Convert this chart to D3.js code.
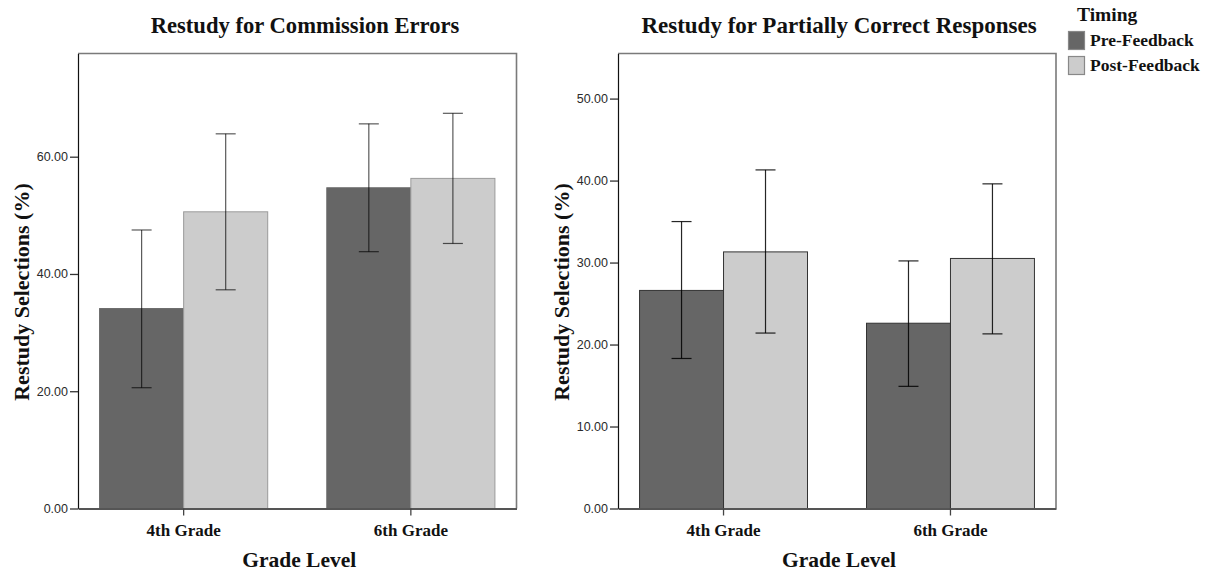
<!DOCTYPE html>
<html><head><meta charset="utf-8">
<script src="https://cdn.jsdelivr.net/npm/d3@7"></script>
<style>
html,body{margin:0;padding:0;background:#fff;}
svg{display:block;}
</style></head>
<body>
<svg id="chart" width="1211" height="574"></svg>
<script>
// ---- DATA ----
const grades = ["4th Grade", "6th Grade"];
const timing = ["Pre-Feedback", "Post-Feedback"];

// Restudy for Commission Errors
const commissionPre = [34.1, 54.7];
const commissionPost = [50.6, 56.3];
const commissionPreLo = [20.6, 43.8];
const commissionPreHi = [47.5, 65.6];
const commissionPostLo = [37.3, 45.2];
const commissionPostHi = [63.9, 67.4];
const commissionTicks = [0, 20, 40, 60];

// Restudy for Partially Correct Responses
const partialPre = [26.6, 22.6];
const partialPost = [31.3, 30.5];
const partialPreLo = [18.3, 14.9];
const partialPreHi = [35.0, 30.2];
const partialPostLo = [21.4, 21.3];
const partialPostHi = [41.3, 39.6];
const partialTicks = [0, 10, 20, 30, 40, 50];

const titles = ["Restudy for Commission Errors", "Restudy for Partially Correct Responses"];
const yTitle = "Restudy Selections (%)";
const xTitle = "Grade Level";
const legendTitle = "Timing";

// ---- STYLE ----
const fills = {"Pre-Feedback": "#666666", "Post-Feedback": "#cccccc"};
const serif = "'Liberation Serif','Times New Roman',serif";
const sans = "'Liberation Sans',Arial,sans-serif";

const svg = d3.select("#chart");

function build(pre, post, preLo, preHi, postLo, postHi) {
  return grades.map((g, i) => ({
    grade: g,
    values: [
      {t: timing[0], v: pre[i], lo: preLo[i], hi: preHi[i]},
      {t: timing[1], v: post[i], lo: postLo[i], hi: postHi[i]}
    ]
  }));
}

function drawChart(o) {
  const g = svg.append("g");
  const y = d3.scaleLinear().domain([0, o.yMax]).range([o.bottom, o.top]);
  const x0 = d3.scaleBand().domain(grades).range([o.left, o.right])
    .paddingInner(0.26).paddingOuter(0.095);
  const x1 = d3.scaleBand().domain(timing).range([0, x0.bandwidth()]).padding(0);

  // frame (top/right gray)
  g.append("path")
    .attr("d", `M${o.left},${o.top}H${o.right}V${o.bottom}`)
    .attr("fill", "none").attr("stroke", "#7a7a7a").attr("stroke-width", 1.6);

  // bars
  const grp = g.selectAll(".grp").data(o.data).join("g")
    .attr("transform", d => `translate(${x0(d.grade)},0)`);
  grp.selectAll("rect").data(d => d.values).join("rect")
    .attr("x", d => x1(d.t))
    .attr("y", d => y(d.v))
    .attr("width", x1.bandwidth())
    .attr("height", d => y(0) - y(d.v))
    .attr("fill", d => fills[d.t])
    .attr("stroke", d => d.t === timing[0] ? o.preStroke : o.postStroke)
    .attr("stroke-width", 1);

  // error bars
  const eb = grp.selectAll(".eb").data(d => d.values).join("g")
    .attr("transform", d => `translate(${x1(d.t) + x1.bandwidth() / 2},0)`)
    .attr("stroke", "#000").attr("stroke-opacity", o.errOpacity).attr("stroke-width", 1.2);
  eb.append("line").attr("x1", 0).attr("x2", 0)
    .attr("y1", d => y(d.lo)).attr("y2", d => y(d.hi));
  eb.append("line").attr("x1", -10).attr("x2", 10)
    .attr("y1", d => y(d.hi)).attr("y2", d => y(d.hi));
  eb.append("line").attr("x1", -10).attr("x2", 10)
    .attr("y1", d => y(d.lo)).attr("y2", d => y(d.lo));

  // y axis
  const ya = g.append("g").attr("transform", `translate(${o.left},0)`)
    .call(d3.axisLeft(y).tickValues(o.ticks).tickFormat(d3.format(".2f")).tickSize(8).tickPadding(2).tickSizeOuter(0));
  ya.select(".domain").attr("stroke", "#111").attr("stroke-width", 1.2);
  ya.selectAll(".tick line").attr("stroke", "#333").attr("stroke-width", 1.3);
  ya.selectAll(".tick text").attr("font-family", sans).attr("font-size", 12.5).attr("fill", "#2a2a2a");

  // x axis
  const xa = g.append("g").attr("transform", `translate(0,${o.bottom})`)
    .call(d3.axisBottom(x0).tickSize(7).tickPadding(8).tickSizeOuter(0));
  xa.select(".domain").attr("stroke", "#555").attr("stroke-width", 2);
  xa.selectAll(".tick line").attr("stroke", "#444").attr("stroke-width", 1.3);
  xa.selectAll(".tick text").attr("font-family", serif).attr("font-size", 17)
    .attr("font-weight", "bold").attr("fill", "#111").attr("dy", "0.71em");

  // titles
  g.append("text").attr("x", o.titleX).attr("y", 33).attr("text-anchor", "middle")
    .attr("font-family", serif).attr("font-size", o.titleSize).attr("font-weight", "bold").attr("fill", "#111")
    .text(o.title);
  g.append("text").attr("x", (o.left + o.right) / 2 + 2).attr("y", 567).attr("text-anchor", "middle")
    .attr("font-family", serif).attr("font-size", 21.5).attr("font-weight", "bold").attr("fill", "#111")
    .text(xTitle);
  g.append("text").attr("transform", `translate(${o.yTitleX},292) rotate(-90)`).attr("text-anchor", "middle")
    .attr("font-family", serif).attr("font-size", 22).attr("font-weight", "bold").attr("fill", "#111")
    .text(yTitle);
}

drawChart({
  data: build(commissionPre, commissionPost, commissionPreLo, commissionPreHi, commissionPostLo, commissionPostHi),
  left: 78, right: 516.5, top: 53.5, bottom: 508.5, yMax: 77.6, ticks: commissionTicks,
  title: titles[0], titleX: 305, titleSize: 22.6, yTitleX: 29, preStroke: "#6a6a6a", postStroke: "#9a9a9a", errOpacity: 0.65
});
drawChart({
  data: build(partialPre, partialPost, partialPreLo, partialPreHi, partialPostLo, partialPostHi),
  left: 618, right: 1056, top: 53.5, bottom: 508.5, yMax: 55.5, ticks: partialTicks,
  title: titles[1], titleX: 839, titleSize: 23, yTitleX: 569, preStroke: "#333", postStroke: "#333", errOpacity: 0.85
});

// legend
const lg = svg.append("g");
lg.append("text").attr("x", 1077).attr("y", 21)
  .attr("font-family", serif).attr("font-size", 19.5).attr("font-weight", "bold").attr("fill", "#111")
  .text(legendTitle);
const li = lg.selectAll(".li").data(timing).join("g")
  .attr("transform", (d, i) => `translate(1068,${31 + i * 25})`);
li.append("rect").attr("x", 0.5).attr("y", 0.5).attr("width", 16).attr("height", 18)
  .attr("fill", d => fills[d]).attr("stroke", "#888").attr("stroke-width", 1.2);
li.append("text").attr("x", 22).attr("y", 15)
  .attr("font-family", serif).attr("font-size", 17.5).attr("font-weight", "bold").attr("fill", "#111")
  .text(d => d);
</script>
</body></html>
